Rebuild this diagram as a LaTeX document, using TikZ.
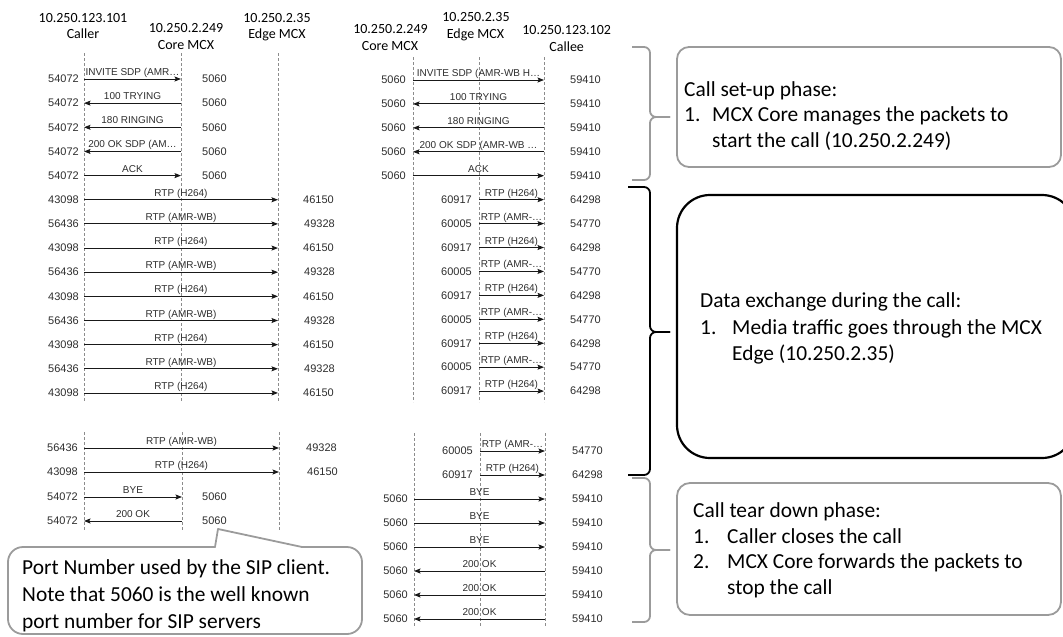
\documentclass[tikz,border=0pt]{standalone}
\usepackage{fontspec}
\setmainfont{Carlito}
\newfontfamily\arialf{Liberation Sans}
\usetikzlibrary{arrows.meta}
\definecolor{calloutgray}{RGB}{155,155,155}
\definecolor{lifegray}{RGB}{140,140,140}
\definecolor{txtgray}{RGB}{45,45,45}
\begin{document}
\begin{tikzpicture}[x=1pt,y=-1pt,
  life/.style={draw=lifegray, line width=0.6pt, dash pattern=on 3pt off 2pt},
  msg/.style={draw=black!90, line width=0.9pt, -{Stealth[length=6.5pt,width=5pt,inset=1.2pt]}},
  lbl/.style={font=\arialf\fontsize{10}{12}\selectfont, text=txtgray, inner sep=0pt, anchor=base},
  portl/.style={font=\arialf\fontsize{11}{13}\selectfont, text=txtgray, inner sep=0pt, anchor=east},
  portr/.style={font=\arialf\fontsize{11}{13}\selectfont, text=txtgray, inner sep=0pt, anchor=west},
  hdr/.style={font=\fontsize{14}{16}\selectfont, inner sep=0pt, anchor=base},
  note/.style={font=\fontsize{21.4}{26}\selectfont, inner sep=0pt, anchor=base west},
  gbox/.style={draw=calloutgray, line width=1.8pt},
  bbox/.style={draw=black, line width=2.2pt},
  gbrace/.style={draw=calloutgray, line width=1.8pt, rounded corners=6pt},
  bbrace/.style={draw=black, line width=1.8pt, rounded corners=6pt},
]
\useasboundingbox (0,0) rectangle (1063,637);
\clip (0,0) rectangle (1063,637);

% ---------- headers ----------
\node[hdr] (hCa1) at (83,22) {10.250.123.101};
\node[hdr] (hCa2) at (83,38.5) {Caller};
\node[hdr] (hCo1) at (186,32.3) {10.250.2.249};
\node[hdr] (hCo2) at (186,49) {Core MCX};
\node[hdr] (hEd1) at (277,22) {10.250.2.35};
\node[hdr] (hEd2) at (277,38.5) {Edge MCX};

\node[hdr] (rCo1) at (390.5,33.3) {10.250.2.249};
\node[hdr] (rCo2) at (390,50) {Core MCX};
\node[hdr] (rEd1) at (476,21.7) {10.250.2.35};
\node[hdr] (rEd2) at (475.5,38.3) {Edge MCX};
\node[hdr] (rCe1) at (566.7,34.3) {10.250.123.102};
\node[hdr] (rCe2) at (566.7,51) {Callee};

% ---------- lifelines ----------
\foreach \n/\x in {C/84,K/181,E/278}{
  \coordinate (LTt\n) at (\x,53); \coordinate (LTb\n) at (\x,402);
  \draw[life] (LTt\n) -- (LTb\n);
}
\foreach \n/\x in {K/413,E/479,L/544}{
  \coordinate (RTt\n) at (\x,57); \coordinate (RTb\n) at (\x,402);
  \draw[life] (RTt\n) -- (RTb\n);
}
\foreach \n/\x in {C/84,K/182,E/279}{
  \coordinate (LBt\n) at (\x,432); \coordinate (LBb\n) at (\x,530);
  \draw[life] (LBt\n) -- (LBb\n);
}
\foreach \n/\x in {K/414,E/480,L/545}{
  \coordinate (RBt\n) at (\x,433); \coordinate (RBb\n) at (\x,627);
  \draw[life] (RBt\n) -- (RBb\n);
}

% ---------- left top messages ----------
\foreach \i/\xa/\xb/\lab/\pl/\pr/\px in {
  0/84/181/{INVITE SDP (AMR…}/54072/5060/202,
  1/181/84/{100 TRYING}/54072/5060/202,
  2/181/84/{180 RINGING}/54072/5060/202,
  3/181/84/{200 OK SDP (AM…}/54072/5060/202,
  4/84/181/{ACK}/54072/5060/202,
  5/84/278/{RTP (H264)}/43098/46150/303,
  6/84/278/{RTP (AMR-WB)}/56436/49328/304,
  7/84/278/{RTP (H264)}/43098/46150/303,
  8/84/278/{RTP (AMR-WB)}/56436/49328/304,
  9/84/278/{RTP (H264)}/43098/46150/303,
  10/84/278/{RTP (AMR-WB)}/56436/49328/304,
  11/84/278/{RTP (H264)}/43098/46150/303,
  12/84/278/{RTP (AMR-WB)}/56436/49328/304,
  13/84/278/{RTP (H264)}/43098/46150/303}{
  \pgfmathsetmacro\yy{79+24.15*\i}
  \pgfmathsetmacro\xm{(\xa+\xb)/2}
  \coordinate (LTa\i) at (\xa,\yy);
  \coordinate (LTz\i) at (\xb,\yy);
  \draw[msg] (LTa\i) -- (LTz\i);
  \node[lbl] (LTl\i) at (\xm,\yy-3.5) {\lab};
  \node[portl] (LTp\i) at (79,\yy) {\pl};
  \node[portr] (LTq\i) at (\px,\yy) {\pr};
}

% ---------- right top messages ----------
\foreach \i/\xa/\xb/\lab/\pl/\plx/\pr in {
  0/413/544/{INVITE SDP (AMR-WB H…}/5060/406/59410,
  1/544/413/{100 TRYING}/5060/406/59410,
  2/544/413/{180 RINGING}/5060/406/59410,
  3/544/413/{200 OK SDP (AMR-WB …}/5060/406/59410,
  4/413/544/{ACK}/5060/406/59410,
  5/479/544/{RTP (H264)}/60917/472/64298,
  6/479/544/{RTP (AMR-…}/60005/472/54770,
  7/479/544/{RTP (H264)}/60917/472/64298,
  8/479/544/{RTP (AMR-…}/60005/472/54770,
  9/479/544/{RTP (H264)}/60917/472/64298,
  10/479/544/{RTP (AMR-…}/60005/472/54770,
  11/479/544/{RTP (H264)}/60917/472/64298,
  12/479/544/{RTP (AMR-…}/60005/472/54770,
  13/479/544/{RTP (H264)}/60917/472/64298}{
  \pgfmathsetmacro\yy{80+23.93*\i}
  \pgfmathsetmacro\xm{(\xa+\xb)/2}
  \coordinate (RTa\i) at (\xa,\yy);
  \coordinate (RTz\i) at (\xb,\yy);
  \draw[msg] (RTa\i) -- (RTz\i);
  \node[lbl] (RTl\i) at (\xm,\yy-3.5) {\lab};
  \node[portl] (RTp\i) at (\plx,\yy) {\pl};
  \node[portr] (RTq\i) at (570,\yy) {\pr};
}

% ---------- left bottom messages ----------
\foreach \i/\yy/\xa/\xb/\lab/\pl/\pr/\px in {
  0/448/84/279/{RTP (AMR-WB)}/56436/49328/306,
  1/472/84/279/{RTP (H264)}/43098/46150/307,
  2/497/84/182/{BYE}/54072/5060/202,
  3/521/182/84/{200 OK}/54072/5060/202}{
  \pgfmathsetmacro\xm{(\xa+\xb)/2}
  \coordinate (LBa\i) at (\xa,\yy);
  \coordinate (LBz\i) at (\xb,\yy);
  \draw[msg] (LBa\i) -- (LBz\i);
  \node[lbl] (LBl\i) at (\xm,\yy-3.5) {\lab};
  \node[portl] (LBp\i) at (78,\yy) {\pl};
  \node[portr] (LBq\i) at (\px,\yy) {\pr};
}

% ---------- right bottom messages ----------
\foreach \i/\yy/\xa/\xb/\lab/\pl/\plx/\pr in {
  0/451/480/545/{RTP (AMR-…}/60005/473/54770,
  1/475/480/545/{RTP (H264)}/60917/473/64298,
  2/499/414/545/{BYE}/5060/408/59410,
  3/523/414/545/{BYE}/5060/408/59410,
  4/547/414/545/{BYE}/5060/408/59410,
  5/571/545/414/{200 OK}/5060/408/59410,
  6/595/545/414/{200 OK}/5060/408/59410,
  7/619/545/414/{200 OK}/5060/408/59410}{
  \pgfmathsetmacro\xm{(\xa+\xb)/2}
  \coordinate (RBa\i) at (\xa,\yy);
  \coordinate (RBz\i) at (\xb,\yy);
  \draw[msg] (RBa\i) -- (RBz\i);
  \node[lbl] (RBl\i) at (\xm,\yy-3.5) {\lab};
  \node[portl] (RBp\i) at (\plx,\yy) {\pl};
  \node[portr] (RBq\i) at (572,\yy) {\pr};
}

% ---------- braces ----------
\draw[gbrace] (632,47) -- (650,47) -- (650,117) -- (670,117);
\draw[gbrace] (632,180) -- (650,180) -- (650,117) -- (670,117);
\draw[bbrace] (628,187) -- (650,187) -- (650,332) -- (670,332);
\draw[bbrace] (628,475) -- (650,475) -- (650,332) -- (670,332);
\draw[gbrace] (632,478) -- (650,478) -- (650,550) -- (670,550);
\draw[gbrace] (632,622) -- (650,622) -- (650,550) -- (670,550);

% ---------- callouts ----------
\draw[gbox, rounded corners=12pt] (677,47) rectangle (1061,167);
\draw[bbox, rounded corners=33pt] (677,195) rectangle (1075,458);
\draw[gbox, rounded corners=13pt] (677,483) rectangle (1061,615);

\draw[gbox, rounded corners=15pt, line cap=round] (302,547) -- (362,547) -- (362,634) -- (8,634) -- (8,547) -- (215,547);
\draw[gbox, line cap=round, line join=round] (215,547) -- (218,529) -- (302,547);

% ---------- callout texts ----------
\node[note] (t1a) at (684,96) {Call set-up phase:};
\node[note] (t1b) at (684,121.5) {1.};
\node[note] (t1c) at (712,121.5) {MCX Core manages the packets to};
\node[note] (t1d) at (712,147) {start the call (10.250.2.249)};

\node[note] (t2a) at (700,307) {Data exchange during the call:};
\node[note] (t2b) at (700,334) {1.};
\node[note] (t2c) at (732,334) {Media traffic goes through the MCX};
\node[note] (t2d) at (732,360) {Edge (10.250.2.35)};

\node[note] (t3a) at (693,517) {Call tear down phase:};
\node[note] (t3b) at (693,543) {1.};
\node[note] (t3c) at (727,543) {Caller closes the call};
\node[note] (t3d) at (693,568.5) {2.};
\node[note] (t3e) at (727,568.5) {MCX Core forwards the packets to};
\node[note] (t3f) at (727,594) {stop the call};

\node[note] (t4a) at (22,574) {Port Number used by the SIP client.};
\node[note] (t4b) at (22,601) {Note that 5060 is the well known};
\node[note] (t4c) at (22,628) {port number for SIP servers};
\end{tikzpicture}
\end{document}
